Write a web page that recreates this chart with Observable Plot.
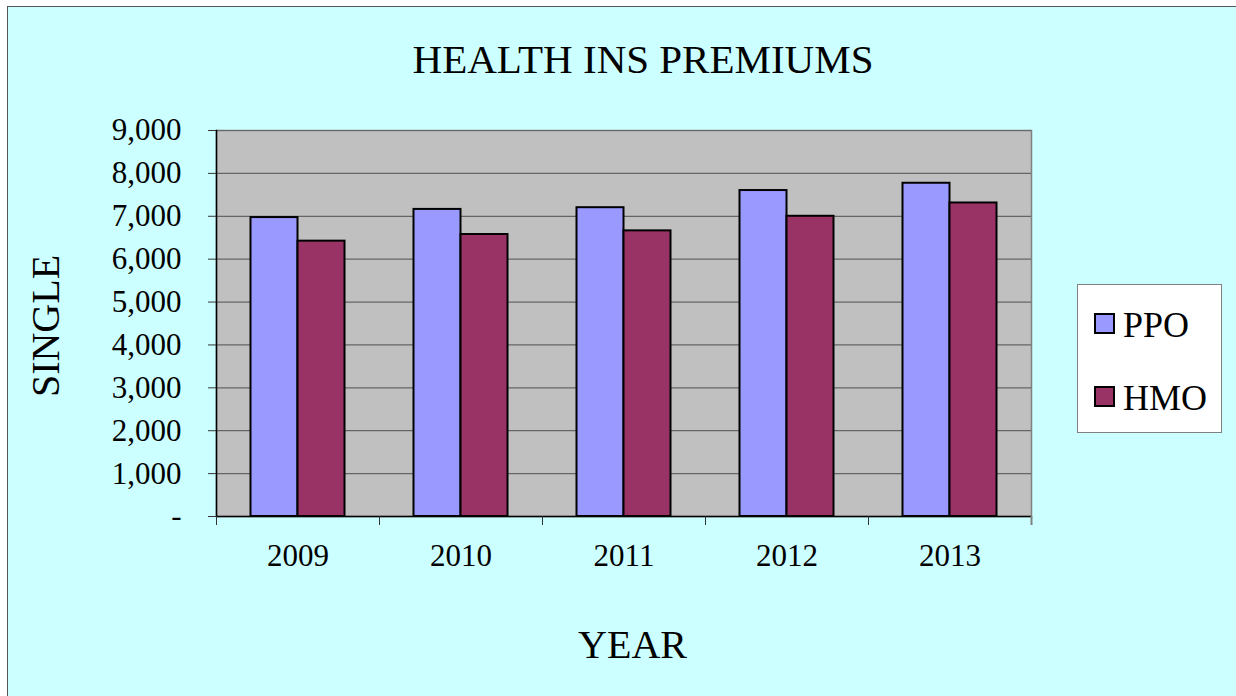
<!DOCTYPE html>
<html>
<head>
<meta charset="utf-8">
<script src="https://cdn.jsdelivr.net/npm/d3@7"></script>
<script src="https://cdn.jsdelivr.net/npm/@observablehq/plot@0.6"></script>
<style>
  html, body { margin: 0; padding: 0; background: #ffffff; }
  #wrap { position: relative; width: 1236px; height: 696px; overflow: hidden; }
  #bg { position: absolute; left: 7px; top: 6px; width: 1300px; height: 760px;
        background: #CCFFFF; border-left: 1px solid #555; border-top: 1px solid #555; }
  #chart { position: absolute; left: 0; top: 0; }
  #legend { position: absolute; left: 1077px; top: 284px; width: 143px; height: 147px;
            background: #ffffff; border: 1px solid #808080;
            font-family: "Liberation Serif", "Times New Roman", serif; }
  .item { position: absolute; left: 16px; height: 40px; }
  .sw { position: absolute; left: 0; width: 17px; height: 17px; border: 2px solid #000; }
  .lab { position: absolute; left: 29px; font-size: 36px; line-height: 36px; color: #000; white-space: nowrap; }
</style>
</head>
<body>
<div id="wrap">
  <div id="bg"></div>
  <div id="chart"></div>
  <div id="legend"></div>
</div>
<script>
const years = ["2009", "2010", "2011", "2012", "2013"];
const ppo = [6970, 7160, 7200, 7600, 7770];
const hmo = [6420, 6575, 6660, 7000, 7310];
const seriesNames = ["PPO", "HMO"];
const seriesColors = ["#9999FF", "#993366"];
const yTicks = [0, 1000, 2000, 3000, 4000, 5000, 6000, 7000, 8000, 9000];
const titleText = "HEALTH INS PREMIUMS";
const yLabel = "SINGLE";
const xLabel = "YEAR";

const ppoData = years.map((y, i) => ({year: y, value: ppo[i]}));
const hmoData = years.map((y, i) => ({year: y, value: hmo[i]}));

const W = 1236, H = 696;
const mL = 216, mR = 205, mT = 130, mB = 180;
const band = (W - mL - mR) / years.length;
const barW = 47;
const gap = (band - 2 * barW) / 2;
const plotH = H - mT - mB;

const fmt = d3.format(",");

const chart = Plot.plot({
  width: W,
  height: H,
  marginLeft: mL,
  marginRight: mR,
  marginTop: mT,
  marginBottom: mB,
  style: {background: "transparent", fontFamily: "'Liberation Serif', 'Times New Roman', serif", fontSize: "31px", color: "#000"},
  x: {domain: years, padding: 0, axis: null},
  y: {domain: [0, 9000], axis: null},
  marks: [
    Plot.frame({fill: "#C0C0C0", stroke: "#808080", strokeWidth: 1.5}),
    Plot.ruleY(yTicks.slice(1), {stroke: "#666666", strokeWidth: 1.2}),
    Plot.barY(ppoData, {x: "year", y: "value", fill: seriesColors[0], stroke: "#000", strokeWidth: 2,
                        insetLeft: gap, insetRight: gap + barW}),
    Plot.barY(hmoData, {x: "year", y: "value", fill: seriesColors[1], stroke: "#000", strokeWidth: 2,
                        insetLeft: gap + barW, insetRight: gap}),
    Plot.ruleY([0], {stroke: "#000", strokeWidth: 1.5}),
    Plot.frame({anchor: "left", stroke: "#000", strokeWidth: 1.5}),
    // category boundary ticks on the x axis
    Plot.ruleX(years, {x: d => d, dx: -band / 2, insetTop: plotH, insetBottom: -9, stroke: "#333"}),
    Plot.ruleX(years.slice(-1), {x: d => d, dx: band / 2, insetTop: plotH, insetBottom: -9, stroke: "#808080", strokeWidth: 2}),
    Plot.axisY({ticks: yTicks, tickSize: 8, tickPadding: 27, tickFormat: d => d === 0 ? "-" : fmt(d),
                label: null, fontSize: 31, stroke: "#333"}),
    Plot.axisX({tickSize: 0, tickPadding: 27, label: null, fontSize: 31}),
    Plot.text([titleText], {frameAnchor: "top", dx: 19, dy: -58, lineAnchor: "bottom", textAnchor: "middle", fontSize: 41, fill: "#000"}),
    Plot.text([xLabel], {frameAnchor: "bottom", dx: 8.5, dy: 141, lineAnchor: "bottom", textAnchor: "middle", fontSize: 40, fill: "#000"}),
    Plot.text([yLabel], {frameAnchor: "left", dx: -158, dy: 2.5, rotate: -90, lineAnchor: "bottom", textAnchor: "middle", fontSize: 40, fill: "#000"})
  ]
});
document.getElementById("chart").appendChild(chart);

const legend = document.getElementById("legend");
const itemTops = [28, 101];
seriesNames.forEach((name, i) => {
  const it = document.createElement("div");
  it.className = "item";
  it.style.top = itemTops[i] + "px";
  const sw = document.createElement("div");
  sw.className = "sw";
  sw.style.background = seriesColors[i];
  sw.style.top = "0px";
  const lab = document.createElement("div");
  lab.className = "lab";
  lab.style.top = "-6px";
  lab.textContent = name;
  it.appendChild(sw);
  it.appendChild(lab);
  legend.appendChild(it);
});
</script>
</body>
</html>
